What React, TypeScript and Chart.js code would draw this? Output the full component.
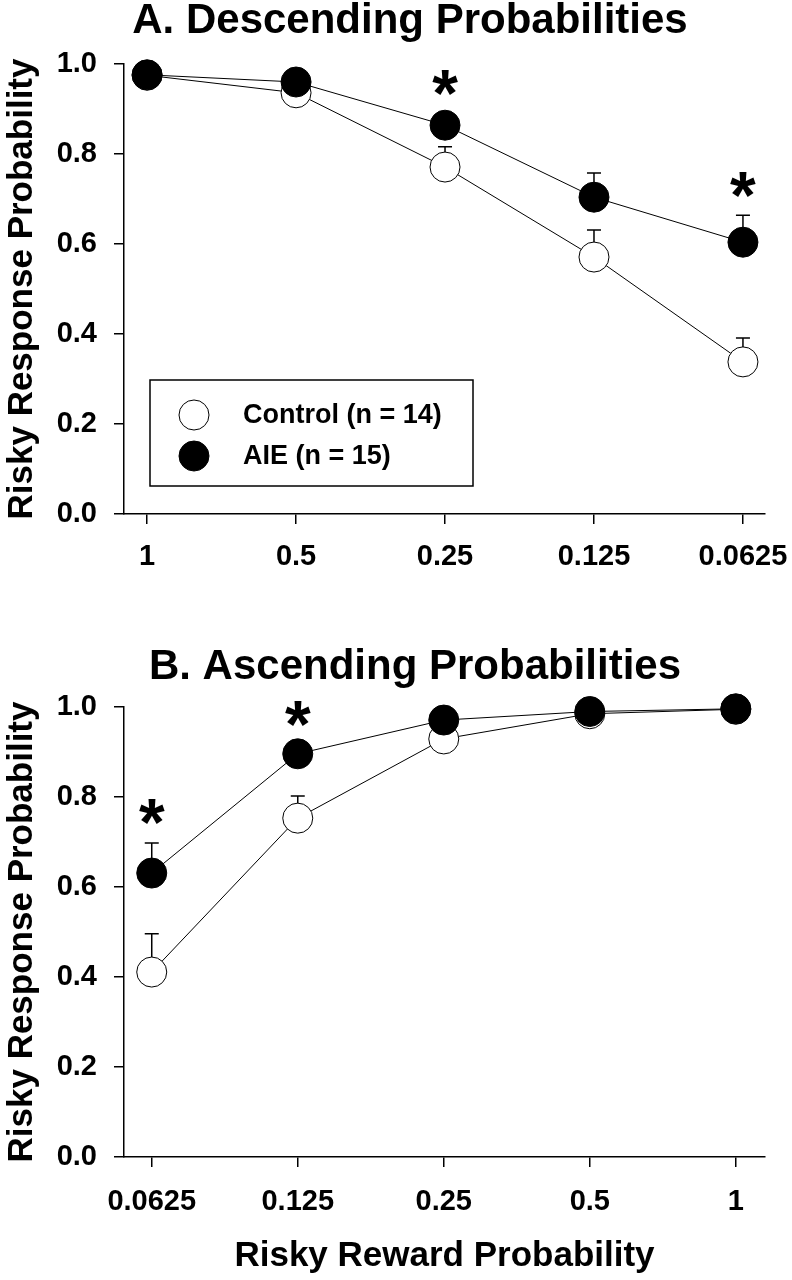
import React, { useEffect, useRef } from "react";
import { Chart, registerables } from "chart.js";

Chart.register(...registerables);

const FONT = '"Liberation Sans", Arial, Helvetica, sans-serif';

// ---------- Panel A: descending probabilities ----------
const descTitle = "A. Descending Probabilities";
const descLabels = ["1", "0.5", "0.25", "0.125", "0.0625"];
const descControl = [0.975, 0.936, 0.771, 0.571, 0.338];
const descControlErr = [0.01, 0.012, 0.045, 0.06, 0.053];
const descAIE = [0.976, 0.96, 0.864, 0.704, 0.604];
const descAIEErr = [0.014, 0.015, 0.025, 0.054, 0.06];
const descSig = [false, false, true, false, true];

// ---------- Panel B: ascending probabilities ----------
const ascTitle = "B. Ascending Probabilities";
const ascLabels = ["0.0625", "0.125", "0.25", "0.5", "1"];
const ascControl = [0.411, 0.753, 0.929, 0.985, 0.995];
const ascControlErr = [0.085, 0.049, 0.02, 0.01, 0.005];
const ascAIE = [0.631, 0.896, 0.971, 0.99, 0.996];
const ascAIEErr = [0.067, 0.02, 0.012, 0.008, 0.004];
const ascSig = [true, true, false, false, false];

const seriesNames = ["Control (n = 14)", "AIE (n = 15)"];
const yTitle = "Risky Response Probability";
const xTitle = "Risky Reward Probability";
const yTicks = [0, 0.2, 0.4, 0.6, 0.8, 1.0];

type Panel = {
  title: string;
  labels: string[];
  control: number[];
  controlErr: number[];
  aie: number[];
  aieErr: number[];
  sig: boolean[];
  xMin: number;
  xMax: number;
  padLeft: number;
  titlePadTop: number;
  titlePadBottom: number;
  xAxisHeight: number;
  tickPad: number;
  xTitle?: string;
  legend: boolean;
  height: number;
};

const AXIS_LEFT = 124;
const RIGHT_GAP = 27;

function makeChart(canvas: HTMLCanvasElement, p: Panel) {
  const errorBars = {
    id: "errorBars",
    beforeDatasetsDraw(chart: any) {
      const { ctx } = chart;
      const xs = chart.scales.x;
      const ys = chart.scales.y;
      ctx.save();
      ctx.strokeStyle = "#000";
      ctx.lineWidth = 1.5;
      chart.data.datasets.forEach((ds: any) => {
        ds.data.forEach((pt: any, i: number) => {
          const e = ds.errors[i];
          const px = xs.getPixelForValue(pt.x);
          const py = ys.getPixelForValue(pt.y);
          const pe = ys.getPixelForValue(pt.y + e);
          ctx.beginPath();
          ctx.moveTo(px, py);
          ctx.lineTo(px, pe);
          ctx.moveTo(px - 7, pe);
          ctx.lineTo(px + 7, pe);
          ctx.stroke();
        });
      });
      ctx.restore();
    },
  };

  const sigMarks = {
    id: "sigMarks",
    afterDatasetsDraw(chart: any) {
      const { ctx } = chart;
      const xs = chart.scales.x;
      const ys = chart.scales.y;
      ctx.save();
      ctx.fillStyle = "#000";
      ctx.font = `bold 66px ${FONT}`;
      ctx.textAlign = "center";
      ctx.textBaseline = "alphabetic";
      const m = ctx.measureText("*");
      p.sig.forEach((s, i) => {
        if (!s) return;
        const px = xs.getPixelForValue(i);
        const cy = ys.getPixelForValue(p.aie[i] + p.aieErr[i]) - 31;
        const by = cy + (m.actualBoundingBoxAscent - m.actualBoundingBoxDescent) / 2;
        ctx.fillText("*", px, by);
      });
      ctx.restore();
    },
  };

  const boxLegend = {
    id: "boxLegend",
    afterDraw(chart: any) {
      if (!p.legend) return;
      const { ctx, chartArea } = chart;
      const left = chartArea.left + 26;
      const top = chartArea.top + 316;
      const w = 323;
      const h = 106;
      ctx.save();
      ctx.fillStyle = "#fff";
      ctx.fillRect(left, top, w, h);
      ctx.strokeStyle = "#000";
      ctx.lineWidth = 1.5;
      ctx.strokeRect(left, top, w, h);
      const rows = [
        { name: chart.data.datasets[0].label, fill: chart.data.datasets[0].pointBackgroundColor },
        { name: chart.data.datasets[1].label, fill: chart.data.datasets[1].pointBackgroundColor },
      ];
      rows.forEach((r, k) => {
        const cy = top + 35 + k * 41;
        ctx.beginPath();
        ctx.arc(left + 44, cy, 15, 0, Math.PI * 2);
        ctx.fillStyle = r.fill;
        ctx.fill();
        ctx.lineWidth = 1;
        ctx.strokeStyle = "#000";
        ctx.stroke();
        ctx.fillStyle = "#000";
        ctx.font = `bold 27px ${FONT}`;
        ctx.textAlign = "left";
        ctx.textBaseline = "middle";
        ctx.fillText(r.name, left + 93, cy + 1);
      });
      ctx.restore();
    },
  };

  const tickFont = { family: FONT, size: 29, weight: "bold" as const, lineHeight: 1 };

  return new Chart(canvas, {
    type: "line",
    data: {
      datasets: [
        {
          label: seriesNames[0],
          data: p.control.map((y, i) => ({ x: i, y })),
          errors: p.controlErr,
          borderColor: "#000",
          borderWidth: 1,
          pointRadius: 15,
          pointHoverRadius: 15,
          pointBackgroundColor: "#fff",
          pointBorderColor: "#000",
          pointBorderWidth: 1,
          tension: 0,
          clip: false,
          order: 1,
        } as any,
        {
          label: seriesNames[1],
          data: p.aie.map((y, i) => ({ x: i, y })),
          errors: p.aieErr,
          borderColor: "#000",
          borderWidth: 1,
          pointRadius: 15,
          pointHoverRadius: 15,
          pointBackgroundColor: "#000",
          pointBorderColor: "#000",
          pointBorderWidth: 1,
          tension: 0,
          clip: false,
          order: 0,
        } as any,
      ],
    },
    options: {
      animation: false,
      responsive: true,
      maintainAspectRatio: false,
      events: [],
      layout: { padding: { left: p.padLeft, right: 0, top: 0, bottom: 0 } },
      plugins: {
        legend: { display: false },
        tooltip: { enabled: false },
        title: {
          display: true,
          text: p.title,
          color: "#000",
          font: { family: FONT, size: 42, weight: "bold", lineHeight: 1 },
          padding: { top: p.titlePadTop, bottom: p.titlePadBottom },
        },
      },
      scales: {
        x: {
          type: "linear",
          min: p.xMin,
          max: p.xMax,
          afterBuildTicks: (s: any) => {
            s.ticks = p.labels.map((_, i) => ({ value: i }));
          },
          afterFit: (s: any) => {
            s.height = p.xAxisHeight;
            s.paddingLeft = 0;
            s.paddingRight = RIGHT_GAP;
          },
          ticks: {
            autoSkip: false,
            maxRotation: 0,
            minRotation: 0,
            color: "#000",
            font: tickFont,
            padding: p.tickPad,
            callback: (v: any) => p.labels[v] ?? "",
          },
          grid: { drawOnChartArea: false, drawTicks: true, tickLength: 10, color: "#000", lineWidth: 1.5 },
          border: { display: true, color: "#000", width: 1.5 },
          title: p.xTitle
            ? {
                display: true,
                text: p.xTitle,
                color: "#000",
                font: { family: FONT, size: 35, weight: "bold", lineHeight: 1 },
                padding: { top: 0, bottom: 6 },
              }
            : { display: false },
        },
        y: {
          type: "linear",
          min: 0,
          max: 1,
          afterBuildTicks: (s: any) => {
            s.ticks = yTicks.map((v) => ({ value: v }));
          },
          afterFit: (s: any) => {
            s.width = AXIS_LEFT - p.padLeft;
            s.paddingTop = 0;
            s.paddingBottom = 0;
          },
          ticks: {
            color: "#000",
            font: tickFont,
            padding: 17,
            callback: (v: any) => Number(v).toFixed(1),
          },
          grid: { drawOnChartArea: false, drawTicks: true, tickLength: 10, color: "#000", lineWidth: 1.5 },
          border: { display: true, color: "#000", width: 1.5 },
          title: {
            display: true,
            text: yTitle,
            color: "#000",
            font: { family: FONT, size: 35, weight: "bold", lineHeight: 1.2 },
            padding: { top: 22 - p.padLeft - 21, bottom: 0 },
          },
        },
      },
    } as any,
    plugins: [errorBars, sigMarks, boxLegend],
  });
}

const panelA: Panel = {
  title: descTitle,
  labels: descLabels,
  control: descControl,
  controlErr: descControlErr,
  aie: descAIE,
  aieErr: descAIEErr,
  sig: descSig,
  xMin: -0.155,
  xMax: 4.148,
  padLeft: 28,
  titlePadTop: 0,
  titlePadBottom: 22,
  xAxisHeight: 86,
  tickPad: 18.5,
  legend: true,
  height: 600,
};

const panelB: Panel = {
  title: ascTitle,
  labels: ascLabels,
  control: ascControl,
  controlErr: ascControlErr,
  aie: ascAIE,
  aieErr: ascAIEErr,
  sig: ascSig,
  xMin: -0.19,
  xMax: 4.2,
  padLeft: 38,
  titlePadTop: 46,
  titlePadBottom: 19,
  xAxisHeight: 123,
  tickPad: 20.5,
  xTitle: xTitle,
  legend: false,
  height: 680,
};

function PanelChart({ panel }: { panel: Panel }) {
  const ref = useRef<HTMLCanvasElement | null>(null);
  useEffect(() => {
    if (!ref.current) return;
    const c = makeChart(ref.current, panel);
    return () => c.destroy();
  }, [panel]);
  return (
    <div style={{ position: "relative", width: 792, height: panel.height }}>
      <canvas ref={ref} />
    </div>
  );
}

export default function App() {
  return (
    <div
      style={{
        position: "absolute",
        left: 0,
        top: 0,
        width: 792,
        height: 1280,
        background: "#fff",
        overflow: "hidden",
      }}
    >
      <PanelChart panel={panelA} />
      <PanelChart panel={panelB} />
    </div>
  );
}
